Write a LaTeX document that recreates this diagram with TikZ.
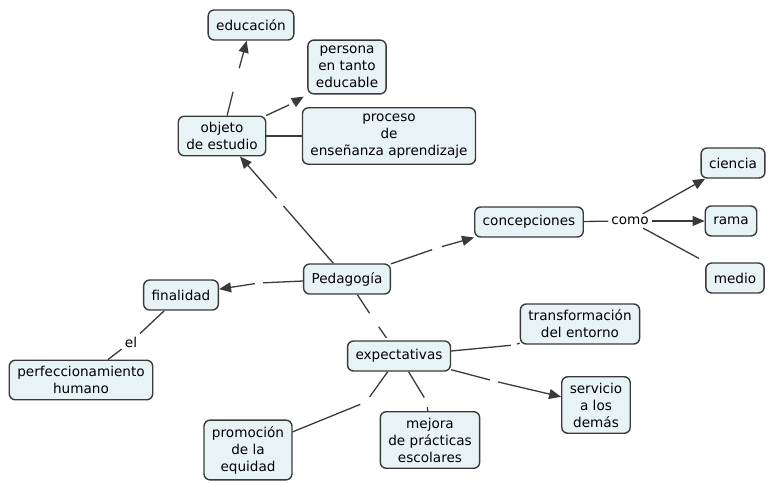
\documentclass[tikz,border=0pt]{standalone}
\usepackage{fontspec}
\setmainfont{DejaVu Sans}
\usetikzlibrary{arrows.meta}
\definecolor{cmapfill}{HTML}{E8F3F6}
\definecolor{cmapline}{HTML}{3A3A3A}

\begin{document}
\begin{tikzpicture}[x=1pt,y=-1pt,>={Triangle[length=12pt,width=10pt]}]
  \tikzset{concept/.style={draw=cmapline, line width=1.4pt, fill=cmapfill,
      rounded corners=6pt, align=center, inner xsep=8pt, inner ysep=6pt,
      minimum height=30pt, font=\fontsize{13.6}{17}\selectfont}}
  \tikzset{linkword/.style={inner sep=3pt, font=\fontsize{13.6}{17}\selectfont}}
  \tikzset{gap/.style={circle, inner sep=0pt, minimum size=#1}, gap/.default=10pt}
  \tikzset{conn/.style={draw=cmapline, line width=1.3pt}}

  \useasboundingbox (0,0) rectangle (769,483);

  % concepts
  \node[concept] (pedagogia) at (347,279) {Pedagogía};
  \node[concept] (objeto) at (222,136) {objeto\\de estudio};
  \node[concept] (educacion) at (251,25) {educación};
  \node[concept] (persona) at (347,67) {persona\\en tanto\\educable};
  \node[concept] (proceso) at (389,136) {proceso\\de\\enseñanza aprendizaje};
  \node[concept] (concepciones) at (529,222) {concepciones};
  \node[concept] (ciencia) at (733,163) {ciencia};
  \node[concept] (rama) at (731,221) {rama};
  \node[concept] (medio) at (735,278) {medio};
  \node[concept] (finalidad) at (181,295) {finalidad};
  \node[concept] (perfeccion) at (81,380) {perfeccionamiento\\humano};
  \node[concept] (expectativas) at (399,356) {expectativas};
  \node[concept] (transformacion) at (580,324) {transformación\\del entorno};
  \node[concept] (servicio) at (596,405) {servicio\\a los\\demás};
  \node[concept] (mejora) at (430,440) {mejora\\de prácticas\\escolares};
  \node[concept] (promocion) at (248,450) {promoción\\de la\\equidad};

  % linking phrases
  \node[linkword] (como) at (630,221) {como};
  \node[linkword] (el) at (131,342) {el};
  \node[gap=24pt] (lEdu) at (236,80) {};
  \node[gap=4pt] (lPer) at (291,104) {};
  \node[gap=10pt] (lObj) at (280,202) {};
  \node[gap=8pt] (lFin) at (259,283) {};
  \node[gap=10pt] (lCon) at (437,248) {};
  \node[gap=16pt] (lExp) at (374,320) {};
  \node[gap=6pt] (lTra) at (514,345) {};
  \node[gap=8pt] (lSer) at (494,381) {};
  \node[gap=10pt] (lMej) at (427,402) {};
  \node[gap=12pt] (lPro) at (366,402) {};

  % connectors
  \draw[conn] (objeto) -- (lEdu);
  \draw[conn,->] (lEdu) -- (educacion);
  \draw[conn] (objeto) -- (lPer);
  \draw[conn,->,shorten >=4pt] (lPer) -- (persona.south west);
  \draw[conn] (objeto) -- (proceso);
  \draw[conn] (pedagogia) -- (lObj);
  \draw[conn,->] (lObj) -- (objeto);
  \draw[conn] (pedagogia) -- (lFin);
  \draw[conn,->] (lFin) -- (finalidad);
  \draw[conn] (pedagogia) -- (lCon);
  \draw[conn,->] (lCon) -- (concepciones);
  \draw[conn] (pedagogia) -- (lExp);
  \draw[conn,shorten >=3pt] (lExp) -- (expectativas);
  \draw[conn] (concepciones) -- (como);
  \draw[conn,->] (como) -- (ciencia);
  \draw[conn,->] (como) -- (rama);
  \draw[conn,shorten >=8pt] (como) -- (medio);
  \draw[conn] (finalidad) -- (el);
  \draw[conn] (el) -- (perfeccion);
  \draw[conn] (expectativas) -- (lTra);
  \draw[conn] (lTra) -- (transformacion);
  \draw[conn] (expectativas) -- (lSer);
  \draw[conn,->] (lSer) -- (servicio);
  \draw[conn] (expectativas) -- (lMej);
  \draw[conn] (lMej) -- (mejora);
  \draw[conn] (expectativas) -- (lPro);
  \draw[conn] (lPro) -- (promocion);
\end{tikzpicture}
\end{document}
